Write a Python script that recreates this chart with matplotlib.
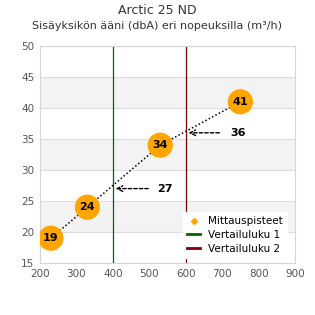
import matplotlib
matplotlib.use("Agg")
import matplotlib.pyplot as plt
from matplotlib.lines import Line2D

airflow = [230, 330, 530, 750]
noise = [19, 24, 34, 41]
ref1_x = 400
ref1_y = 27
ref2_x = 600
ref2_y = 36
xticks = [200, 300, 400, 500, 600, 700, 800, 900]
yticks = [15, 20, 25, 30, 35, 40, 45, 50]

fig = plt.figure(figsize=(3.15, 3.15), dpi=100)
ax = fig.add_axes([40/315, 52/315, 255/315, 217/315])
ax.set_xlim(200, 900)
ax.set_ylim(15, 50)

for lo in (20, 30, 40):
    ax.axhspan(lo, lo + 5, color="#f3f3f3", zorder=0, lw=0)
for y in yticks:
    ax.axhline(y, color="#dddddd", lw=0.8, zorder=0.5)

ax.plot(airflow, noise, linestyle=(0, (1, 1.5)), color="black", lw=1.1, zorder=2)
ax.scatter(airflow, noise, s=330, color="#FFA500", zorder=3, edgecolors="none")
for x, y in zip(airflow, noise):
    ax.text(x, y, str(y), ha="center", va="center", fontsize=8, fontweight="bold", zorder=4)

ax.axvline(ref1_x, color="#006400", lw=0.9, zorder=1)
ax.axvline(ref2_x, color="#800000", lw=0.9, zorder=1)

ax.annotate("", xy=(ref1_x, ref1_y), xytext=(ref1_x + 105, ref1_y),
            arrowprops=dict(arrowstyle="->", linestyle=(0, (2.5, 1.5)), color="black", lw=1))
ax.text(ref1_x + 122, ref1_y, str(ref1_y), ha="left", va="center", fontsize=8, fontweight="bold")
ax.annotate("", xy=(ref2_x, ref2_y), xytext=(ref2_x + 100, ref2_y),
            arrowprops=dict(arrowstyle="->", linestyle=(0, (2.5, 1.5)), color="black", lw=1))
ax.text(ref2_x + 122, ref2_y, str(ref2_y), ha="left", va="center", fontsize=8, fontweight="bold")

ax.set_xticks(xticks)
ax.set_yticks(yticks)
ax.tick_params(length=0, labelsize=7.5, labelcolor="#555555", pad=4)
for s in ax.spines.values():
    s.set_color("#d5d5d5")
    s.set_linewidth(0.8)

handles = [
    Line2D([], [], marker="D", color="#FFA500", linestyle="none", markersize=3),
    Line2D([], [], color="#006400", lw=2),
    Line2D([], [], color="#800000", lw=2),
]
leg = ax.legend(handles, ["Mittauspisteet", "Vertailuluku 1", "Vertailuluku 2"],
                loc="lower right", fontsize=7.5, frameon=True, fancybox=False,
                framealpha=1, edgecolor="white", handlelength=1.2, borderpad=0.4,
                labelspacing=0.35, bbox_to_anchor=(0.99, 0.0))
leg.set_zorder(5)

fig.text(0.5, 0.966, "Arctic 25 ND", ha="center", va="center", fontsize=9, color="#333333")
fig.text(0.5, 0.916, "Sisäyksikön ääni (dbA) eri nopeuksilla (m³/h)", ha="center", va="center",
         fontsize=8, color="#333333")

fig.savefig("out.png", dpi=100)
